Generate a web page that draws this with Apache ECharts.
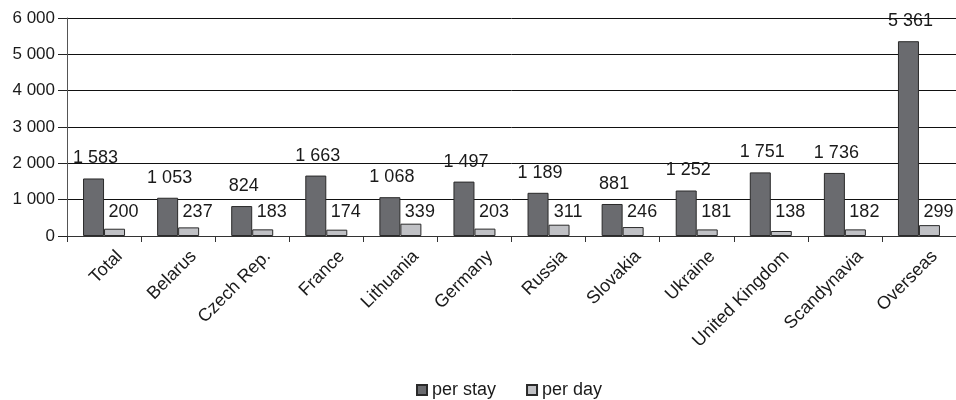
<!DOCTYPE html>
<html>
<head>
<meta charset="utf-8">
<script src="https://cdn.jsdelivr.net/npm/echarts@6/dist/echarts.min.js"></script>
<style>
  html, body { margin: 0; padding: 0; background: #fff; }
  #chart { width: 956px; height: 400px; }
</style>
</head>
<body>
<div id="chart"></div>
<script>
  // categories
  const countries = ['Total', 'Belarus', 'Czech Rep.', 'France', 'Lithuania', 'Germany',
    'Russia', 'Slovakia', 'Ukraine', 'United Kingdom', 'Scandynavia', 'Overseas'];
  // values
  const perStay = [1583, 1053, 824, 1663, 1068, 1497, 1189, 881, 1252, 1751, 1736, 5361];
  const perDay = [200, 237, 183, 174, 339, 203, 311, 246, 181, 138, 182, 299];
  const yTicks = [0, 1000, 2000, 3000, 4000, 5000, 6000];

  // 1583 -> "1 583"
  function fmt(v) {
    return String(v).replace(/\B(?=(\d{3})+(?!\d))/g, ' ');
  }

  const font = 'Liberation Sans, Arial, sans-serif';
  const txt = '#1a1a1a';

  let myChart = echarts.init(document.getElementById('chart'));

  myChart.setOption({
    animation: false,
    grid: {
      left: 67,
      right: 0,
      top: 18,
      bottom: 164
    },
    legend: {
      top: 376,
      left: 411,
      itemWidth: 10,
      itemHeight: 10,
      itemGap: 30,
      icon: 'rect',
      textStyle: { color: txt, fontSize: 18, fontFamily: font },
      data: ['per stay', 'per day']
    },
    xAxis: {
      type: 'category',
      data: countries,
      axisLine: { lineStyle: { color: '#333', width: 1 } },
      axisTick: { show: true, length: 6, lineStyle: { color: '#333' } },
      axisLabel: {
        interval: 0,
        rotate: 45,
        margin: 2,
        verticalAlign: 'top',
        padding: [13, 0, 0, 0],
        color: txt,
        fontSize: 18,
        fontFamily: font
      }
    },
    yAxis: {
      type: 'value',
      min: yTicks[0],
      max: yTicks[yTicks.length - 1],
      interval: 1000,
      axisLine: { show: true, lineStyle: { color: '#555', width: 1 } },
      axisTick: { show: true, length: 9, lineStyle: { color: '#222' } },
      axisLabel: {
        margin: 12,
        color: txt,
        fontSize: 17,
        fontFamily: font,
        formatter: fmt
      },
      splitLine: { lineStyle: { color: '#111', width: 1 } }
    },
    series: [
      {
        name: 'per stay',
        type: 'bar',
        data: perStay,
        barWidth: 21,
        barGap: '0%',
        itemStyle: { color: '#6a6b6f', borderColor: '#2a2a2a', borderWidth: 1 },
        label: {
          show: true,
          position: 'top',
          distance: 11,
          offset: [2, 0],
          color: txt,
          fontSize: 18,
          fontFamily: font,
          formatter: p => fmt(p.value)
        }
      },
      {
        name: 'per day',
        type: 'bar',
        data: perDay,
        barWidth: 21,
        itemStyle: { color: '#c0c1c5', borderColor: '#2a2a2a', borderWidth: 1 },
        label: {
          show: true,
          position: 'insideBottom',
          distance: 15,
          offset: [9, 0],
          color: txt,
          fontSize: 18,
          fontFamily: font,
          formatter: p => fmt(p.value)
        }
      }
    ]
  });
</script>
</body>
</html>
